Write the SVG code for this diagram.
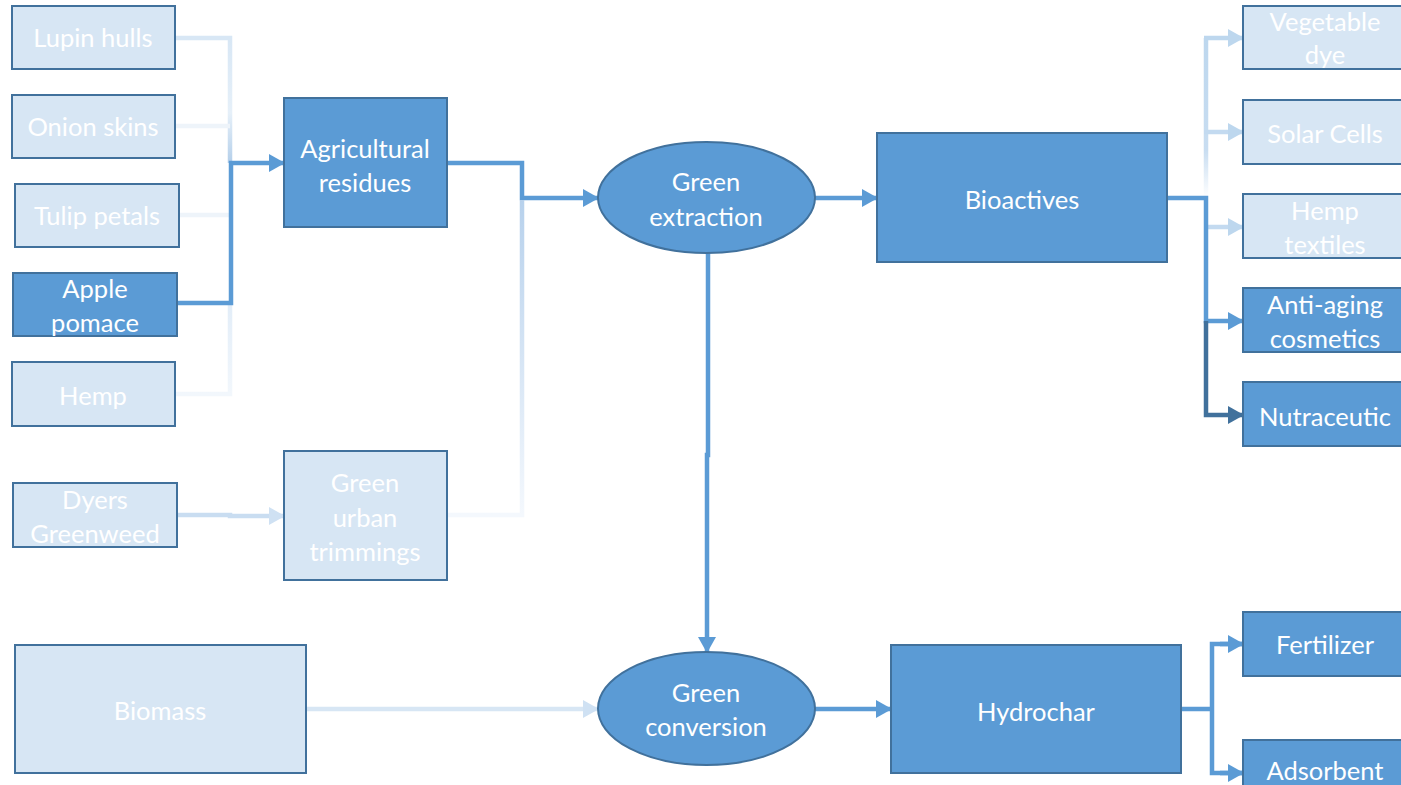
<svg xmlns="http://www.w3.org/2000/svg" width="1401" height="785" viewBox="0 0 1401 785">
<defs>
<style>
.dk{fill:#5B9BD5;stroke:#41719C;stroke-width:2}
.lt{fill:#D7E6F4;stroke:#41719C;stroke-width:2}
text{font-family:Lato,"Liberation Sans",sans-serif;font-size:25.5px;fill:#FFFFFF;text-anchor:middle}
.c{fill:none;stroke-width:4.5;stroke-linejoin:miter}
</style>
<marker id="aD" markerUnits="userSpaceOnUse" markerWidth="16" markerHeight="18" refX="15" refY="9" orient="auto"><path d="M0,0 L16,9 L0,18 Z" fill="#5B9BD5"/></marker>
<marker id="aX" markerUnits="userSpaceOnUse" markerWidth="16" markerHeight="18" refX="15" refY="9" orient="auto"><path d="M0,0 L16,9 L0,18 Z" fill="#41719C"/></marker>
<marker id="aL" markerUnits="userSpaceOnUse" markerWidth="16" markerHeight="18" refX="15" refY="9" orient="auto"><path d="M0,0 L16,9 L0,18 Z" fill="#BDD7EE"/></marker>
<marker id="aP" markerUnits="userSpaceOnUse" markerWidth="16" markerHeight="18" refX="15" refY="9" orient="auto"><path d="M0,0 L16,9 L0,18 Z" fill="#CFE1F3"/></marker>
<linearGradient id="gLeftTop" gradientUnits="userSpaceOnUse" x1="0" y1="38" x2="0" y2="163"><stop offset="0" stop-color="#D8E7F5"/><stop offset="0.6" stop-color="#E6F0F9"/><stop offset="1" stop-color="#B4CFEA"/></linearGradient>
<linearGradient id="gLeftBot" gradientUnits="userSpaceOnUse" x1="0" y1="303" x2="0" y2="394"><stop offset="0" stop-color="#E2EDF8"/><stop offset="1" stop-color="#F2F7FC"/></linearGradient>
<linearGradient id="gUrban" gradientUnits="userSpaceOnUse" x1="0" y1="198" x2="0" y2="515"><stop offset="0" stop-color="#B7D1EC"/><stop offset="1" stop-color="#F4F8FD"/></linearGradient>
<linearGradient id="gOut" gradientUnits="userSpaceOnUse" x1="0" y1="38" x2="0" y2="198"><stop offset="0" stop-color="#BDD7EE"/><stop offset="0.7" stop-color="#C8DDF1"/><stop offset="1" stop-color="#FFFFFF"/></linearGradient>
</defs>
<rect width="1401" height="785" fill="#FFFFFF"/>
<g id="connectors">
<polyline class="c" points="175,38 230,38 230,163" stroke="url(#gLeftTop)"/>
<line class="c" x1="175" y1="126" x2="230" y2="126" stroke="#EEF4FA"/>
<line class="c" x1="179" y1="215" x2="230" y2="215" stroke="#EEF4FA"/>
<polyline class="c" points="175,394 230,394 230,303" stroke="url(#gLeftBot)"/>
<polyline class="c" points="177,303 231,303 231,163 284,163" stroke="#5B9BD5" marker-end="url(#aD)"/>
<polyline class="c" points="447,163 522,163 522,198 598,198" stroke="#5B9BD5" marker-end="url(#aD)"/>
<polyline class="c" points="447,515 522,515 522,200" stroke="url(#gUrban)"/>
<polyline class="c" points="177,515 230,515 230,516 284,516" stroke="#C9DDF1" marker-end="url(#aP)"/>
<line class="c" x1="306" y1="709" x2="598" y2="709" stroke="#D7E6F4" marker-end="url(#aP)"/>
<line class="c" x1="815" y1="198" x2="877" y2="198" stroke="#5B9BD5" marker-end="url(#aD)"/>
<polyline class="c" points="708,253 708,455 707,455 707,652" stroke="#5B9BD5" marker-end="url(#aD)"/>
<line class="c" x1="815" y1="709" x2="891" y2="709" stroke="#5B9BD5" marker-end="url(#aD)"/>
<line class="c" x1="1206" y1="198" x2="1206" y2="38" stroke="url(#gOut)"/>
<line class="c" x1="1204" y1="38" x2="1243" y2="38" stroke="#BDD7EE" marker-end="url(#aL)"/>
<line class="c" x1="1204" y1="132" x2="1243" y2="132" stroke="#C3DAF0" marker-end="url(#aL)"/>
<line class="c" x1="1206" y1="227" x2="1243" y2="227" stroke="#C3DAF0" marker-end="url(#aL)"/>
<polyline class="c" points="1167,198 1206,198 1206,321 1243,321" stroke="#5B9BD5" marker-end="url(#aD)"/>
<polyline class="c" points="1206,321 1206,415 1243,415" stroke="#41719C" marker-end="url(#aX)"/>
<polyline class="c" points="1181,709 1212,709" stroke="#5B9BD5"/>
<polyline class="c" points="1243,644 1212,644 1212,773 1243,773" stroke="#5B9BD5"/>
<line class="c" x1="1220" y1="644" x2="1243" y2="644" stroke="#5B9BD5" marker-end="url(#aD)"/>
<line class="c" x1="1220" y1="773" x2="1243" y2="773" stroke="#5B9BD5" marker-end="url(#aD)"/>
</g>
<g id="lupin-hulls"><rect class="lt" x="12" y="6" width="163" height="63"/><text x="93" y="47">Lupin hulls</text></g>
<g id="onion-skins"><rect class="lt" x="12" y="95" width="163" height="63"/><text x="93" y="136">Onion skins</text></g>
<g id="tulip-petals"><rect class="lt" x="15" y="184" width="164" height="63"/><text x="97" y="225">Tulip petals</text></g>
<g id="apple-pomace"><rect class="dk" x="13" y="273" width="164" height="63"/><text x="95" y="298">Apple</text><text x="95" y="332">pomace</text></g>
<g id="hemp"><rect class="lt" x="12" y="362" width="163" height="64"/><text x="93" y="405">Hemp</text></g>
<g id="agricultural-residues"><rect class="dk" x="284" y="98" width="163" height="129"/><text x="365" y="158">Agricultural</text><text x="365" y="192">residues</text></g>
<g id="dyers-greenweed"><rect class="lt" x="13" y="483" width="164" height="64"/><text x="95" y="509">Dyers</text><text x="95" y="543">Greenweed</text></g>
<g id="green-urban-trimmings"><rect class="lt" x="284" y="451" width="163" height="129"/><text x="365" y="492">Green</text><text x="365" y="527">urban</text><text x="365" y="561">trimmings</text></g>
<g id="biomass"><rect class="lt" x="15" y="645" width="291" height="128"/><text x="160" y="720">Biomass</text></g>
<g id="green-extraction"><ellipse class="dk" cx="706.5" cy="197.5" rx="108.5" ry="55.5"/><text x="706" y="191">Green</text><text x="706" y="226">extraction</text></g>
<g id="green-conversion"><ellipse class="dk" cx="706.5" cy="708.5" rx="108.5" ry="56.5"/><text x="706" y="702">Green</text><text x="706" y="736">conversion</text></g>
<g id="bioactives"><rect class="dk" x="877" y="133" width="290" height="129"/><text x="1022" y="209">Bioactives</text></g>
<g id="hydrochar"><rect class="dk" x="891" y="645" width="290" height="128"/><text x="1036" y="721">Hydrochar</text></g>
<g id="vegetable-dye"><rect class="lt" x="1243" y="6" width="164" height="63"/><text x="1325" y="31">Vegetable</text><text x="1325" y="64">dye</text></g>
<g id="solar-cells"><rect class="lt" x="1243" y="100" width="164" height="64"/><text x="1325" y="143">Solar Cells</text></g>
<g id="hemp-textiles"><rect class="lt" x="1243" y="194" width="164" height="64"/><text x="1325" y="220">Hemp</text><text x="1325" y="254">textiles</text></g>
<g id="anti-aging-cosmetics"><rect class="dk" x="1243" y="288" width="164" height="64"/><text x="1325" y="314">Anti-aging</text><text x="1325" y="348">cosmetics</text></g>
<g id="nutraceutic"><rect class="dk" x="1243" y="382" width="164" height="64"/><text x="1325" y="426">Nutraceutic</text></g>
<g id="fertilizer"><rect class="dk" x="1243" y="612" width="164" height="64"/><text x="1325" y="654">Fertilizer</text></g>
<g id="adsorbent"><rect class="dk" x="1243" y="740" width="164" height="64"/><text x="1325" y="780">Adsorbent</text></g>
</svg>
